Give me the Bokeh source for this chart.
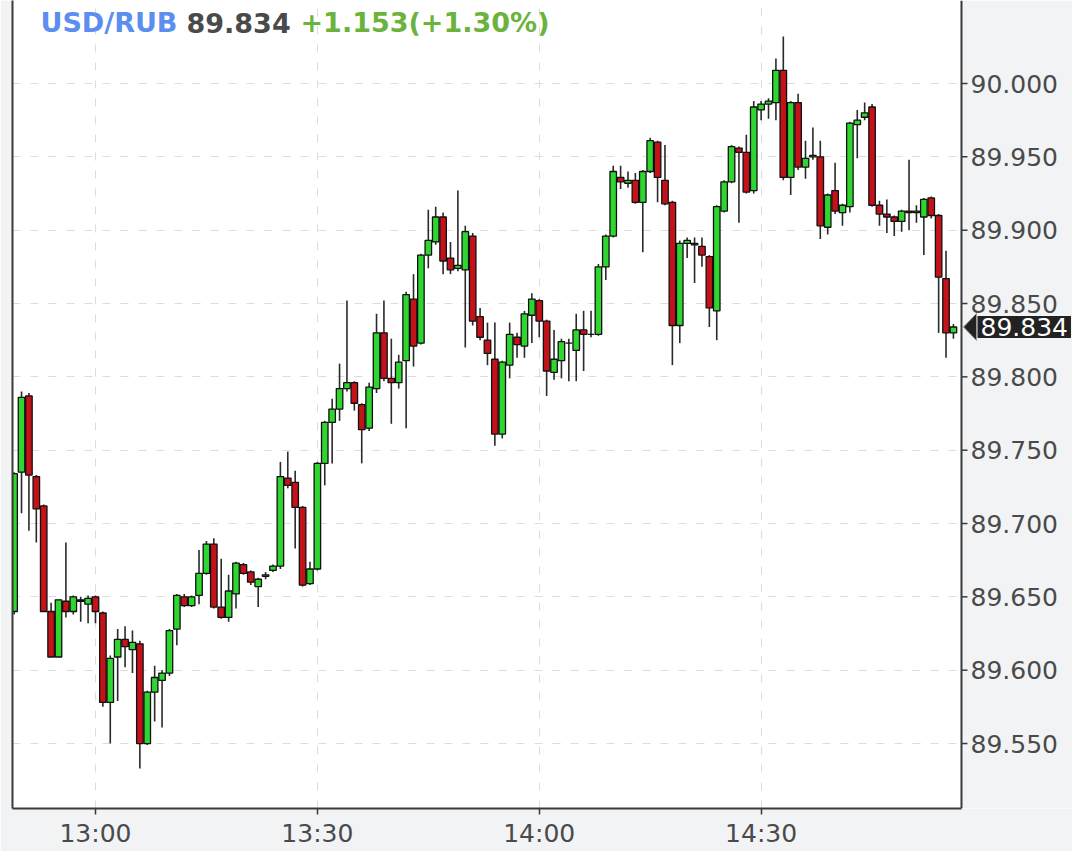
import pandas as pd
from bokeh.plotting import figure
from bokeh.models import Range1d, FixedTicker, Label, ColumnDataSource, BoxAnnotation, Span
from bokeh.embed import file_html
from bokeh.resources import INLINE

# ---------------- data ----------------
symbol = "USD/RUB"
last_price_text = "89.834"
change_text = "+1.153(+1.30%)"
last_price = 89.834

start_time = "12:49"   # first 1-minute candle
opens = [89.640, 89.735, 89.787, 89.732, 89.712, 89.640, 89.609, 89.647, 89.640, 89.648,
         89.645, 89.650, 89.639, 89.578, 89.609, 89.621, 89.614, 89.618, 89.550, 89.585,
         89.593, 89.598, 89.628, 89.650, 89.644, 89.651, 89.666, 89.686, 89.643, 89.636,
         89.652, 89.672, 89.667, 89.657, 89.664, 89.668, 89.671, 89.731, 89.728, 89.711,
         89.659, 89.669, 89.741, 89.769, 89.778, 89.792, 89.796, 89.781, 89.765, 89.792,
         89.830, 89.799, 89.796, 89.811, 89.853, 89.823, 89.883, 89.892, 89.909, 89.881,
         89.874, 89.873, 89.896, 89.841, 89.825, 89.812, 89.761, 89.808, 89.827, 89.821,
         89.842, 89.852, 89.838, 89.803, 89.811, 89.823, 89.818, 89.832, 89.829, 89.829,
         89.875, 89.896, 89.936, 89.932, 89.934, 89.919, 89.940, 89.960, 89.934, 89.919,
         89.835, 89.891, 89.891, 89.889, 89.882, 89.845, 89.913, 89.933, 89.956, 89.953,
         89.927, 89.982, 89.986, 89.987, 90.009, 89.936, 89.987, 89.943, 89.950, 89.950,
         89.902, 89.927, 89.912, 89.916, 89.972, 89.977, 89.984, 89.917, 89.911, 89.909,
         89.906, 89.913, 89.912, 89.909, 89.922, 89.910, 89.867, 89.830]
highs = [89.735, 89.790, 89.789, 89.733, 89.713, 89.646, 89.648, 89.687, 89.651, 89.650,
         89.651, 89.651, 89.640, 89.610, 89.628, 89.630, 89.627, 89.620, 89.586, 89.603,
         89.600, 89.628, 89.652, 89.652, 89.651, 89.682, 89.688, 89.690, 89.676, 89.665,
         89.674, 89.673, 89.668, 89.663, 89.667, 89.672, 89.742, 89.749, 89.736, 89.712,
         89.674, 89.742, 89.770, 89.785, 89.809, 89.852, 89.797, 89.782, 89.796, 89.843,
         89.852, 89.826, 89.815, 89.858, 89.870, 89.884, 89.914, 89.916, 89.912, 89.892,
         89.927, 89.903, 89.898, 89.847, 89.837, 89.837, 89.811, 89.837, 89.830, 89.845,
         89.857, 89.853, 89.839, 89.832, 89.826, 89.826, 89.843, 89.845, 89.845, 89.877,
         89.897, 89.944, 89.944, 89.940, 89.939, 89.941, 89.963, 89.961, 89.958, 89.920,
         89.893, 89.895, 89.895, 89.895, 89.883, 89.917, 89.934, 89.958, 89.957, 89.965,
         89.988, 89.988, 89.990, 90.017, 90.032, 89.988, 89.993, 89.961, 89.970, 89.961,
         89.925, 89.946, 89.918, 89.974, 89.982, 89.987, 89.986, 89.920, 89.921, 89.910,
         89.914, 89.948, 89.917, 89.922, 89.923, 89.911, 89.886, 89.836]
lows = [89.638, 89.707, 89.695, 89.687, 89.640, 89.609, 89.609, 89.636, 89.638, 89.633,
        89.632, 89.632, 89.575, 89.550, 89.579, 89.602, 89.598, 89.533, 89.549, 89.565,
        89.561, 89.596, 89.617, 89.643, 89.643, 89.645, 89.665, 89.642, 89.635, 89.633,
        89.642, 89.665, 89.658, 89.643, 89.662, 89.667, 89.669, 89.724, 89.683, 89.657,
        89.658, 89.668, 89.726, 89.741, 89.770, 89.790, 89.777, 89.741, 89.763, 89.789,
        89.797, 89.768, 89.792, 89.765, 89.807, 89.822, 89.874, 89.890, 89.870, 89.870,
        89.872, 89.820, 89.835, 89.825, 89.808, 89.753, 89.758, 89.799, 89.813, 89.813,
        89.823, 89.827, 89.787, 89.798, 89.799, 89.797, 89.797, 89.804, 89.827, 89.828,
        89.866, 89.895, 89.928, 89.929, 89.918, 89.885, 89.939, 89.919, 89.917, 89.808,
        89.823, 89.881, 89.864, 89.875, 89.834, 89.825, 89.912, 89.932, 89.905, 89.925,
        89.925, 89.975, 89.976, 89.975, 89.934, 89.924, 89.941, 89.935, 89.948, 89.894,
        89.897, 89.911, 89.903, 89.912, 89.949, 89.975, 89.916, 89.903, 89.898, 89.896,
        89.899, 89.900, 89.905, 89.883, 89.908, 89.830, 89.813, 89.826]
closes = [89.734, 89.786, 89.733, 89.710, 89.640, 89.609, 89.648, 89.640, 89.650, 89.647,
          89.649, 89.640, 89.578, 89.608, 89.621, 89.616, 89.619, 89.550, 89.585, 89.595,
          89.598, 89.627, 89.651, 89.644, 89.650, 89.666, 89.686, 89.643, 89.636, 89.654,
          89.673, 89.666, 89.660, 89.662, 89.665, 89.671, 89.732, 89.726, 89.711, 89.658,
          89.669, 89.741, 89.769, 89.778, 89.792, 89.796, 89.782, 89.764, 89.793, 89.830,
          89.799, 89.796, 89.810, 89.856, 89.821, 89.883, 89.893, 89.909, 89.879, 89.873,
          89.876, 89.899, 89.838, 89.827, 89.816, 89.761, 89.810, 89.829, 89.822, 89.843,
          89.853, 89.838, 89.804, 89.812, 89.824, 89.823, 89.832, 89.829, 89.829, 89.875,
          89.896, 89.940, 89.933, 89.934, 89.919, 89.940, 89.961, 89.936, 89.918, 89.835,
          89.891, 89.893, 89.890, 89.883, 89.847, 89.916, 89.933, 89.957, 89.953, 89.926,
          89.984, 89.986, 89.988, 90.009, 89.936, 89.987, 89.943, 89.949, 89.951, 89.903,
          89.924, 89.913, 89.917, 89.973, 89.975, 89.980, 89.917, 89.911, 89.909, 89.906,
          89.913, 89.912, 89.913, 89.921, 89.910, 89.868, 89.830, 89.834]

x_tick_labels = ["13:00", "13:30", "14:00", "14:30"]
y_ticks = [89.55, 89.60, 89.65, 89.70, 89.75, 89.80, 89.85, 89.90, 89.95, 90.00]
y_tick_labels = ["89.550", "89.600", "89.650", "89.700", "89.750",
                 "89.800", "89.850", "89.900", "89.950", "90.000"]

# view window (minute of day + fraction)
x_start = ("12:48", 0.78)     # left edge of chart
x_data_end = ("14:57", 0.09)  # right edge of candle area (price axis line)
x_end = ("15:12", 0.10)       # right edge of the price-axis strip
y_view = (89.5057, 90.0566)
px_per_min = 7.396
px_per_unit = 1466.67

# ---------------- helpers ----------------
def to_min(s):
    h, m = s.split(":")
    return int(h) * 60 + int(m)

def tmin(pair):
    return to_min(pair[0]) + pair[1]

t0 = to_min(start_time)
xs = [t0 + i for i in range(len(opens))]
up = [c >= o for o, c in zip(opens, closes)]
GREEN = "#2fd62f"
RED = "#c4121a"
BG = "#f2f3f5"
AXIS = "#3a3a3a"
LABEL = "#4a4a4a"
TAG = "#222222"

src = ColumnDataSource(dict(
    x=xs, open=opens, high=highs, low=lows, close=closes,
    top=[max(o, c) for o, c in zip(opens, closes)],
    bottom=[min(o, c) for o, c in zip(opens, closes)],
    color=[GREEN if u else RED for u in up],
))

xa, xd, xe = tmin(x_start), tmin(x_data_end), tmin(x_end)

p = figure(width=1072, height=851,
           x_range=Range1d(xa, xe), y_range=Range1d(*y_view),
           output_backend="svg", toolbar_location=None,
           min_border_left=12, min_border_right=0, min_border_top=0, min_border_bottom=43)

p.background_fill_color = "white"
p.border_fill_color = BG
p.outline_line_color = None

# grids
tick_pos = [to_min(s) for s in x_tick_labels]
p.xaxis.ticker = FixedTicker(ticks=tick_pos)
p.xaxis.major_label_overrides = {t: s for t, s in zip(tick_pos, x_tick_labels)}
p.yaxis.ticker = FixedTicker(ticks=[])
p.ygrid.ticker = FixedTicker(ticks=y_ticks)
for g in (p.xgrid, p.ygrid):
    g.grid_line_color = "#dcdcdc"
    g.grid_line_dash = "8 10"
    g.grid_line_width = 1

# grey strip for the price axis (covers grid lines there)
p.add_layout(BoxAnnotation(left=xd, right=xe, bottom=y_view[0], top=y_view[1],
                           fill_color=BG, fill_alpha=1, line_color=None, level="underlay"))

# bottom time axis
xa_ = p.xaxis[0]
xa_.bounds = (xa, xd)
xa_.axis_line_color = AXIS
xa_.axis_line_width = 2
xa_.major_tick_line_color = AXIS
xa_.major_tick_line_width = 1.5
xa_.major_tick_out = 6
xa_.major_tick_in = 0
xa_.minor_tick_line_color = None
xa_.major_label_text_font = "DejaVu Sans"
xa_.major_label_text_font_size = "25px"
xa_.major_label_text_color = LABEL
xa_.major_label_standoff = 4

# left border line (left axis without ticks / labels)
ya_ = p.yaxis[0]
ya_.axis_line_color = AXIS
ya_.axis_line_width = 2
ya_.major_tick_line_color = None
ya_.minor_tick_line_color = None
ya_.major_label_standoff = 0

# wicks + bodies
p.segment(x0="x", y0="high", x1="x", y1="low", source=src, line_color="#2a2a2a", line_width=1.6)
p.vbar(x="x", width=0.88, top="top", bottom="bottom", source=src,
       fill_color="color", line_color="#111111", line_width=1.3)

# price axis on the right (ticks + labels)
tick_len = 6 / px_per_min
p.segment(x0=[xd] * len(y_ticks), x1=[xd + tick_len] * len(y_ticks),
          y0=y_ticks, y1=y_ticks, line_color=AXIS, line_width=1.5)
p.text(x=[xd] * len(y_ticks), y=y_ticks, text=y_tick_labels, x_offset=9,
       text_baseline="middle", text_align="left", text_font_size="25px",
       text_color=LABEL, text_font={"value": "DejaVu Sans"})
p.add_layout(Span(location=xd, dimension="height", line_color=AXIS, line_width=2))

# header labels
def header(x, text, color):
    p.add_layout(Label(x=x, y=786, x_units="screen", y_units="screen", text=text,
                       text_font="DejaVu Sans", text_font_style="bold", text_font_size="27px",
                       text_color=color, text_baseline="middle"))

header(28, symbol, "#5b8ef0")
header(174, last_price_text, "#4a4a4a")
header(288, change_text, "#6cb33e")

# last price tag on the axis: pointer + dark box
half_h = 13.5 / px_per_unit
p.patch(x=[xd + 2 / px_per_min, xd + 15 / px_per_min, xd + 15 / px_per_min],
        y=[last_price, last_price + half_h, last_price - half_h],
        fill_color=TAG, line_color="#9a9a9a", line_width=1)
p.add_layout(Label(x=xd + 16 / px_per_min, y=last_price, x_units="data", y_units="data",
                   text=last_price_text, text_font="DejaVu Sans", text_font_size="25px",
                   text_color="white", text_baseline="middle",
                   background_fill_color=TAG, padding=(3, 2)))

open("out.html", "w").write(file_html(p, INLINE))
